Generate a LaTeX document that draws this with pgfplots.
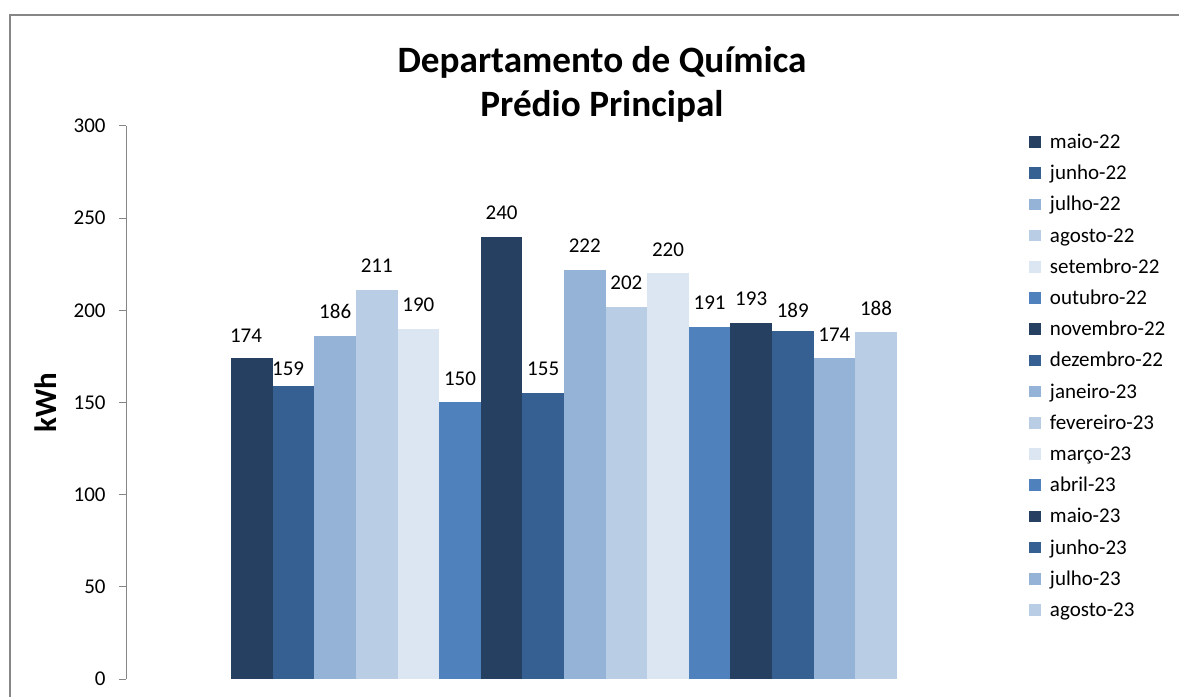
\documentclass[border=0pt]{standalone}
\usepackage{pgfplots}
\pgfplotsset{compat=1.18}
\usepackage{fontspec}
\setmainfont{Carlito}
\definecolor{cA}{HTML}{254061}
\definecolor{cB}{HTML}{376092}
\definecolor{cC}{HTML}{95B3D7}
\definecolor{cD}{HTML}{B9CDE5}
\definecolor{cE}{HTML}{DCE6F2}
\definecolor{cF}{HTML}{4F81BD}
\definecolor{axgray}{HTML}{868686}
\newcommand{\lbl}{\fontsize{10.5}{12.6}\selectfont}
\begin{document}
\begin{tikzpicture}
\draw[color=axgray, line width=0.75pt] (5pt,0pt) -- (5pt,341pt) -- (589.5pt,341pt);
\begin{axis}[
  at={(63pt,9pt)}, anchor=south west,
  scale only axis, width=438pt, height=276.5pt,
  xmin=-1, xmax=1, ymin=0, ymax=300,
  ybar=0pt, bar width=20.8pt,
  axis x line=none, axis y line*=left,
  y axis line style={color=axgray, line width=0.5pt},
  ytick={0,50,...,300}, xtick=\empty,
  tick align=outside, major tick length=3.3pt,
  y tick style={color=axgray, line width=0.5pt},
  /pgf/number format/assume math mode=true,
  yticklabel={\lbl\pgfmathprintnumber{\tick}},
  yticklabel style={font=\lbl, color=black, inner sep=0pt, anchor=east, xshift=-6.7pt},
  ylabel={kWh},
  ylabel style={font=\fontsize{15.5}{18}\selectfont\bfseries, at={(axis description cs:-0.0913,0.5)}, anchor=center},
  clip=false,
  nodes near coords,
  every node near coord/.append style={font=\lbl, color=black, inner sep=0pt, yshift=8.4pt},
  legend style={at={(axis description cs:1.0308,0.9863)}, anchor=north west, draw=none, fill=none, inner sep=0pt, outer sep=0pt,
     font=\lbl, row sep=5.6pt, column sep=4.7pt,
     nodes={inner sep=0pt, text height=7.5pt, text depth=2.5pt, anchor=base west}},
  legend cell align=left,
  legend image code/.code={\fill[#1] (0pt,0.4pt) rectangle (5.8pt,6.2pt);},
]
\addplot[fill=cA, draw=none, every node near coord/.append style={yshift=-0.8pt, xshift=-3pt}] coordinates {(0,174)}; \addlegendentry{maio-22}
\addplot[fill=cB, draw=none, every node near coord/.append style={yshift=-3.7pt, xshift=-2.75pt}] coordinates {(0,159)}; \addlegendentry{junho-22}
\addplot[fill=cC, draw=none] coordinates {(0,186)}; \addlegendentry{julho-22}
\addplot[fill=cD, draw=none] coordinates {(0,211)}; \addlegendentry{agosto-22}
\addplot[fill=cE, draw=none] coordinates {(0,190)}; \addlegendentry{setembro-22}
\addplot[fill=cF, draw=none] coordinates {(0,150)}; \addlegendentry{outubro-22}
\addplot[fill=cA, draw=none] coordinates {(0,240)}; \addlegendentry{novembro-22}
\addplot[fill=cB, draw=none] coordinates {(0,155)}; \addlegendentry{dezembro-22}
\addplot[fill=cC, draw=none] coordinates {(0,222)}; \addlegendentry{janeiro-23}
\addplot[fill=cD, draw=none] coordinates {(0,202)}; \addlegendentry{fevereiro-23}
\addplot[fill=cE, draw=none] coordinates {(0,220)}; \addlegendentry{março-23}
\addplot[fill=cF, draw=none] coordinates {(0,191)}; \addlegendentry{abril-23}
\addplot[fill=cA, draw=none] coordinates {(0,193)}; \addlegendentry{maio-23}
\addplot[fill=cB, draw=none, every node near coord/.append style={yshift=-1.9pt}] coordinates {(0,189)}; \addlegendentry{junho-23}
\addplot[fill=cC, draw=none] coordinates {(0,174)}; \addlegendentry{julho-23}
\addplot[fill=cD, draw=none] coordinates {(0,188)}; \addlegendentry{agosto-23}
\end{axis}
\node[font=\fontsize{18.6}{22}\selectfont\bfseries, anchor=base, inner sep=0pt] at (301pt,312.35pt) {Departamento de Química};
\node[font=\fontsize{18.6}{22}\selectfont\bfseries, anchor=base, inner sep=0pt] at (301pt,290.15pt) {Prédio Principal};
\pgfresetboundingbox
\path[use as bounding box] (0pt,0pt) rectangle (589.5pt,348.5pt);
\end{tikzpicture}
\end{document}
